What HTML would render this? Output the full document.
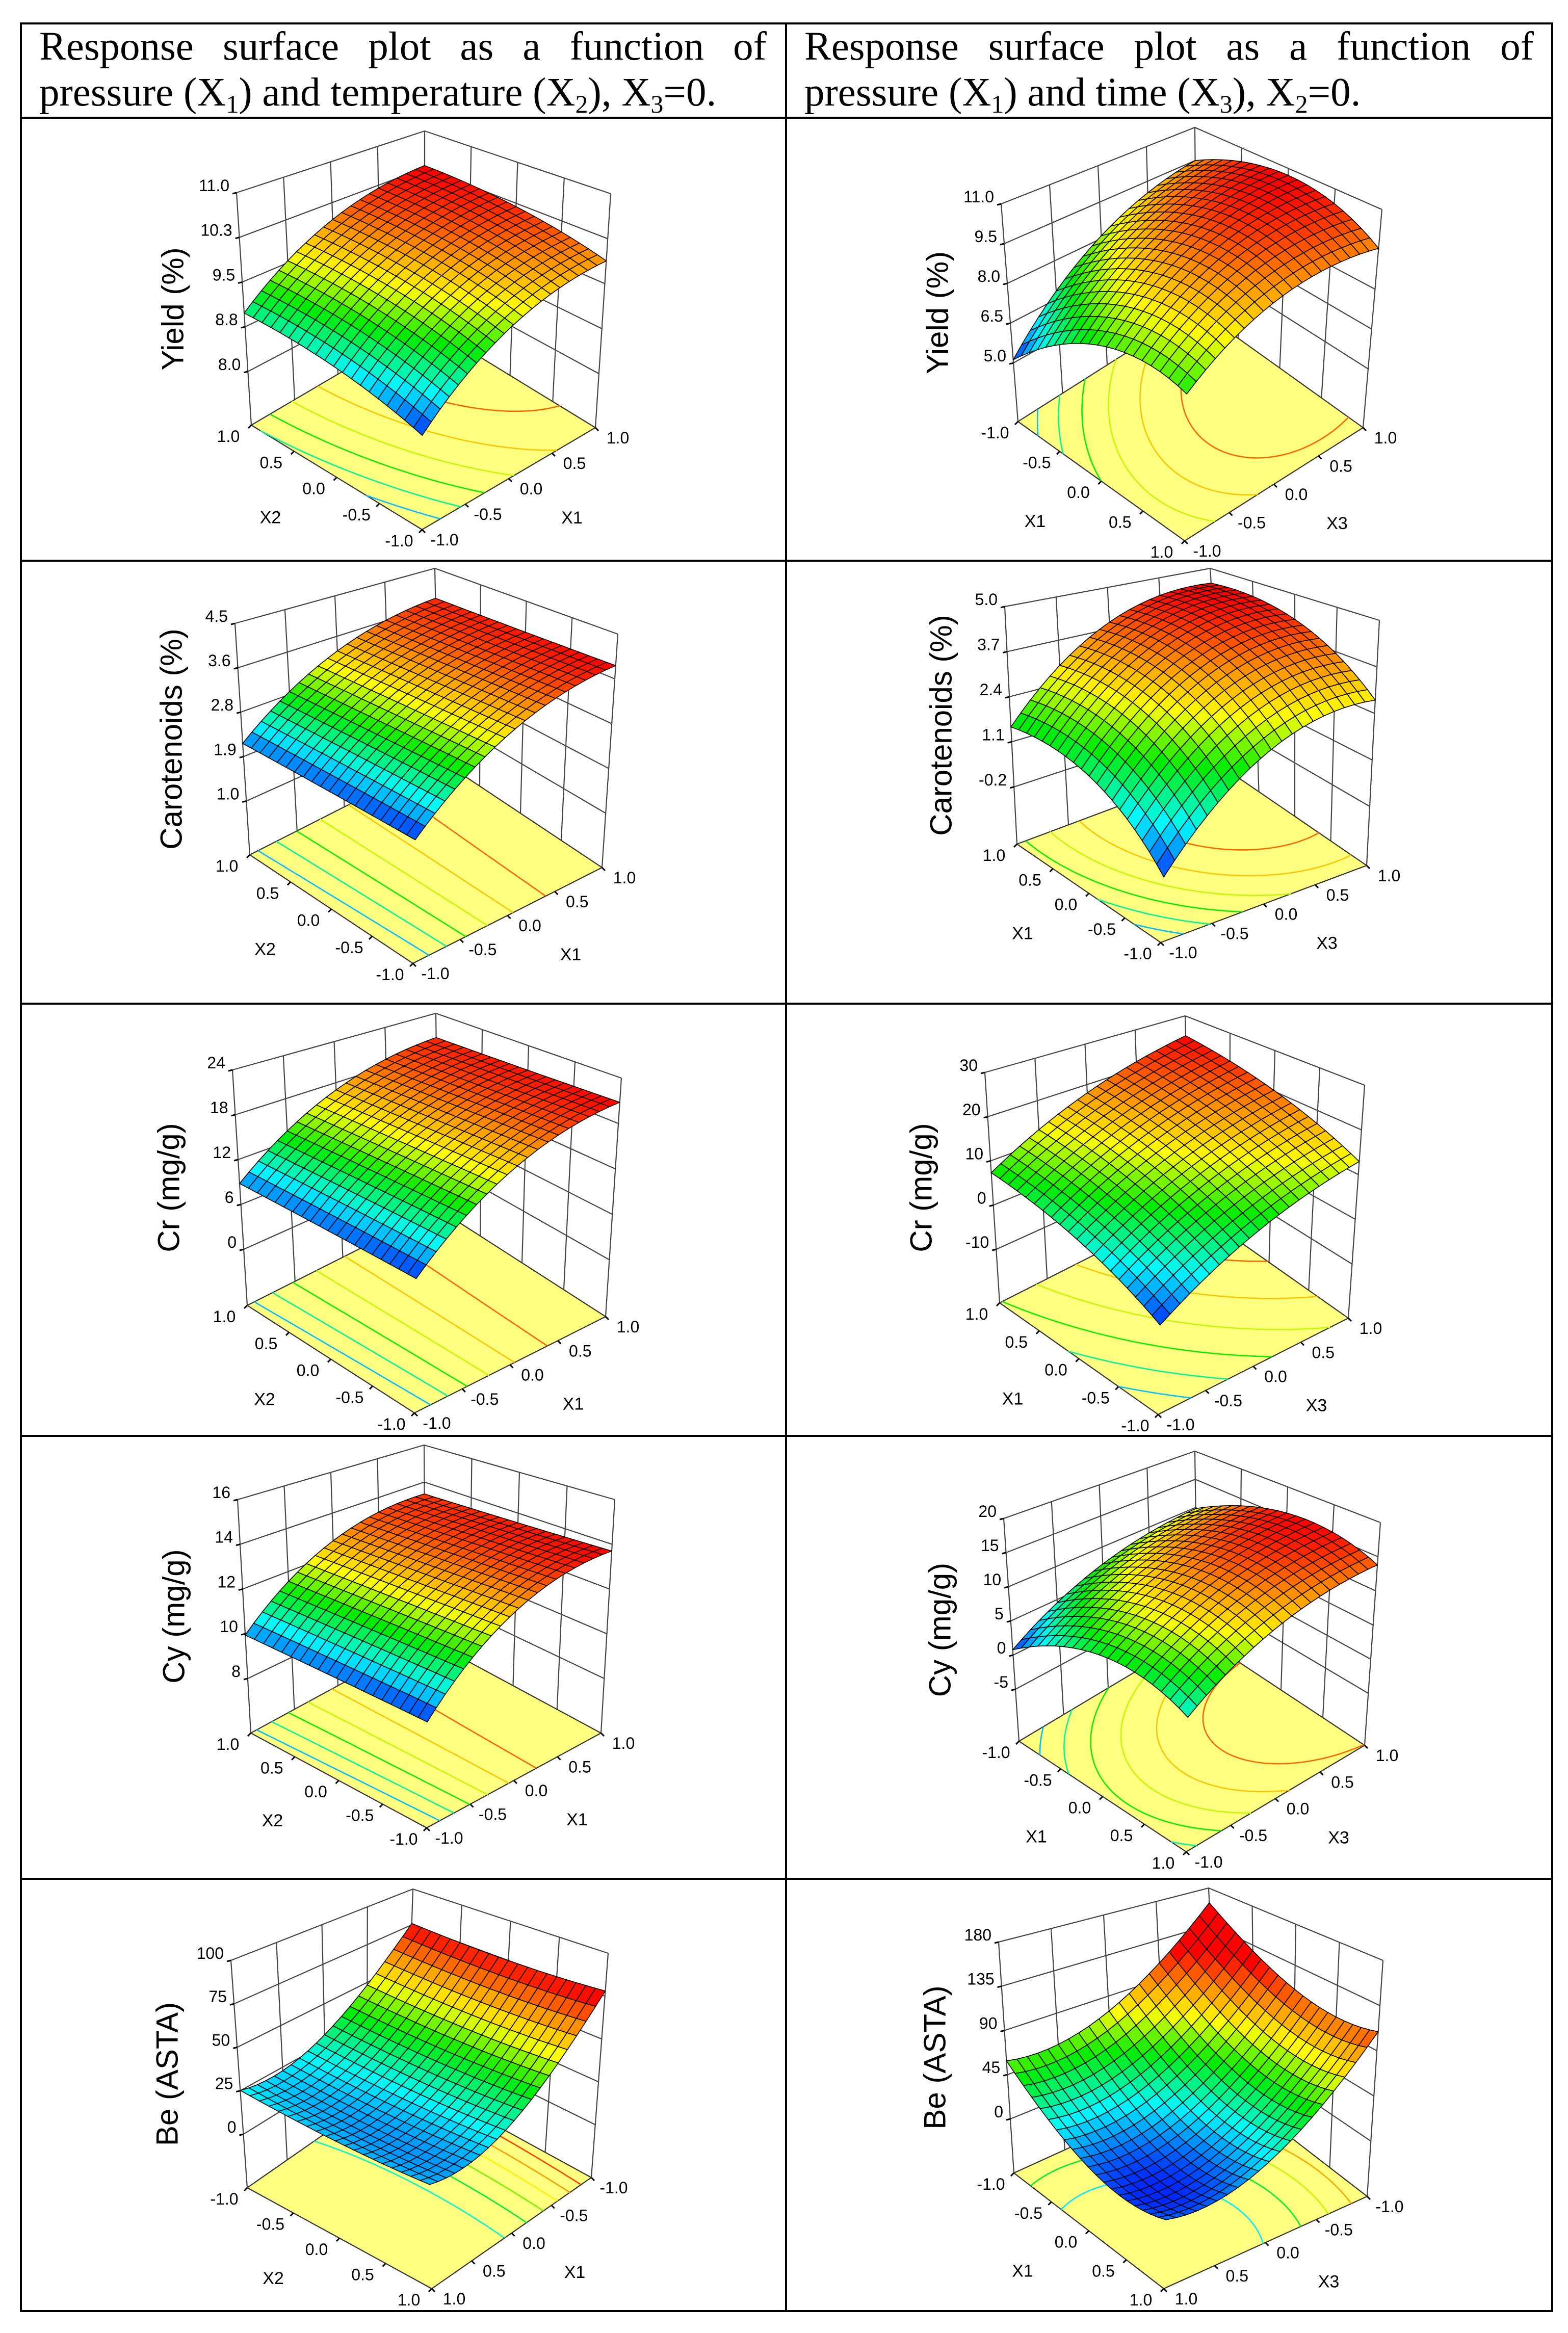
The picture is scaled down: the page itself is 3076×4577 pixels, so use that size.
<!DOCTYPE html>
<html><head><meta charset="utf-8"><title>Response surface plots</title>
<style>
html,body{margin:0;padding:0;background:#fff;}
svg{display:block;}
</style></head>
<body>
<svg id="fig" xmlns="http://www.w3.org/2000/svg" width="3076" height="4577" viewBox="0 0 3076 4577">
<rect x="0" y="0" width="3076" height="4577" fill="#fff"/>
<g id="table" stroke="#000" stroke-width="4" fill="none">
<rect x="41" y="46" width="3004" height="4488"/>
<line x1="1542" y1="46" x2="1542" y2="4534"/>
<line x1="41" y1="231" x2="3045" y2="231"/>
<line x1="41" y1="1100" x2="3045" y2="1100"/>
<line x1="41" y1="1969" x2="3045" y2="1969"/>
<line x1="41" y1="2817" x2="3045" y2="2817"/>
<line x1="41" y1="3686" x2="3045" y2="3686"/>
</g>
<g font-family="'Liberation Serif', serif" font-size="79" fill="#000">
<text id="h1" x="77" y="117">Response surface plot as a function of</text>
<text x="77" y="207">pressure (X<tspan font-size="50" dy="14">1</tspan><tspan dy="-14">) and temperature (X</tspan><tspan font-size="50" dy="14">2</tspan><tspan dy="-14">), X</tspan><tspan font-size="50" dy="14">3</tspan><tspan dy="-14">=0.</tspan></text>
<text id="h2" x="1578" y="117">Response surface plot as a function of</text>
<text x="1578" y="207">pressure (X<tspan font-size="50" dy="14">1</tspan><tspan dy="-14">) and time (X</tspan><tspan font-size="50" dy="14">3</tspan><tspan dy="-14">), X</tspan><tspan font-size="50" dy="14">2</tspan><tspan dy="-14">=0.</tspan></text>
</g>
<g id="plots"></g>
</svg>
<script>
// ---- data: quadratic model coefficients [b0, b1, b2, b11, b22, b12] for (first var, second var)
const yieldT_coef = [9.8, 0.69, 0.24, -0.3, -0.1, -0.03];
const yieldTime_coef = [9.92, 0.61, 1.6, -1.2, -0.8, -0.59];
const carT_coef = [3.3, 0.885, 0.01, -0.35, 0, -0.06];
const carTime_coef = [3.63, 0.88, 1.5, -0.6, -0.9, -0.02];
const crT_coef = [16.85, 6.1, 0.1, -2.5, 0, -0.45];
const crTime_coef = [13.45, 6.0, 8.8, -1.5, -2, -0.17];
const cyT_coef = [12.65, 1.88, 0, -1.0, 0, -0.17];
const cyTime_coef = [13.13, 1.84, 4.67, -4, -2, 0.16];
const beT_coef = [28, -27, -0.6, 20, 2, -1.6];
const beTime_coef = [19.5, -27, -52, 27, 37, -0.5];
// ---- z-axis tick values and labels
const yieldT_ticks = [8, 8.75, 9.5, 10.25, 11];
const yieldT_labels = ["8.0", "8.8", "9.5", "10.3", "11.0"];
const yieldTime_ticks = [5, 6.5, 8, 9.5, 11];
const yieldTime_labels = ["5.0", "6.5", "8.0", "9.5", "11.0"];
const carT_ticks = [1.0, 1.875, 2.75, 3.625, 4.5];
const carT_labels = ["1.0", "1.9", "2.8", "3.6", "4.5"];
const carTime_ticks = [-0.2, 1.1, 2.4, 3.7, 5.0];
const carTime_labels = ["-0.2", "1.1", "2.4", "3.7", "5.0"];
const crT_ticks = [0, 6, 12, 18, 24];
const crT_labels = ["0", "6", "12", "18", "24"];
const crTime_ticks = [-10, 0, 10, 20, 30];
const crTime_labels = ["-10", "0", "10", "20", "30"];
const cyT_ticks = [8, 10, 12, 14, 16];
const cyT_labels = ["8", "10", "12", "14", "16"];
const cyTime_ticks = [-5, 0, 5, 10, 15, 20];
const cyTime_labels = ["-5", "0", "5", "10", "15", "20"];
const beT_ticks = [0, 25, 50, 75, 100];
const beT_labels = ["0", "25", "50", "75", "100"];
const beTime_ticks = [0, 45, 90, 135, 180];
const beTime_labels = ["0", "45", "90", "135", "180"];
// z value at the floor of each box
const floorValues = [7.1, 2.79, -0.06, -1.85, -7.5, -22.1, 5.56, -12.6, -30.8, -55];
// colour-scale range per plot (null = surface min/max)
const colorMin = [null, null, null, null, null, null, null, null, 12, -5];
const colorMax = [null, null, null, null, null, null, null, null, 75, 120];
const zTitles = ["Yield (%)", "Yield (%)", "Carotenoids (%)", "Carotenoids (%)", "Cr (mg/g)", "Cr (mg/g)", "Cy (mg/g)", "Cy (mg/g)", "Be (ASTA)", "Be (ASTA)"];

// ---- layout (screen geometry, not data)
const layout = [
 {TB:[833,257],TL:[464,378],TR:[1198,380],FL:[493,834],FF:[828,1039],FR:[1168,839]},
 {TB:[2344,250],TL:[1964,400],TR:[2711,411],FL:[1997,827],FF:[2324,1061],FR:[2674,839]},
 {TB:[853,1115],TL:[461,1223],TR:[1212,1244],FL:[490,1677],FF:[810,1890],FR:[1181,1702]},
 {TB:[2374,1115],TL:[1971,1190],TR:[2706,1217],FL:[1995,1656],FF:[2277,1849],FR:[2681,1698]},
 {TB:[855,1988],TL:[456,2099],TR:[1219,2115],FL:[485,2561],FF:[813,2772],FR:[1188,2583]},
 {TB:[2325,1993],TL:[1932,2104],TR:[2677,2129],FL:[1961,2556],FF:[2272,2775],FR:[2645,2586]},
 {TB:[832,2835],TL:[466,2942],TR:[1206,2942],FL:[492,3400],FF:[837,3586],FR:[1179,3400]},
 {TB:[2344,2847],TL:[1969,2979],TR:[2708,2987],FL:[1999,3416],FF:[2327,3633],FR:[2677,3424]},
 {TB:[810,3706],TL:[453,3846],TR:[1193,3832],FL:[485,4292],FF:[847,4490],FR:[1160,4272]},
 {TB:[2371,3704],TL:[1959,3810],TR:[2713,3846],FL:[1989,4263],FF:[2283,4490],FR:[2682,4309]}
];
const axesCfg = [
 {lv:"X2",lFirst:false,aF:-1,aL:1, rv:"X1",bF:-1,bR:1},
 {lv:"X1",lFirst:true, aF:1,aL:-1, rv:"X3",bF:-1,bR:1},
 {lv:"X2",lFirst:false,aF:-1,aL:1, rv:"X1",bF:-1,bR:1},
 {lv:"X1",lFirst:true, aF:-1,aL:1, rv:"X3",bF:-1,bR:1},
 {lv:"X2",lFirst:false,aF:-1,aL:1, rv:"X1",bF:-1,bR:1},
 {lv:"X1",lFirst:true, aF:-1,aL:1, rv:"X3",bF:-1,bR:1},
 {lv:"X2",lFirst:false,aF:-1,aL:1, rv:"X1",bF:-1,bR:1},
 {lv:"X1",lFirst:true, aF:1,aL:-1, rv:"X3",bF:-1,bR:1},
 {lv:"X2",lFirst:false,aF:1,aL:-1, rv:"X1",bF:1,bR:-1},
 {lv:"X1",lFirst:true, aF:1,aL:-1, rv:"X3",bF:1,bR:-1}
];
const coefs = [yieldT_coef, yieldTime_coef, carT_coef, carTime_coef, crT_coef, crTime_coef, cyT_coef, cyTime_coef, beT_coef, beTime_coef];
const tickSets = [yieldT_ticks, yieldTime_ticks, carT_ticks, carTime_ticks, crT_ticks, crTime_ticks, cyT_ticks, cyTime_ticks, beT_ticks, beTime_ticks];
const labelSets = [yieldT_labels, yieldTime_labels, carT_labels, carTime_labels, crT_labels, crTime_labels, cyT_labels, cyTime_labels, beT_labels, beTime_labels];
const plotNames = ["yield-pressure-temperature","yield-pressure-time","carotenoids-pressure-temperature","carotenoids-pressure-time","cr-pressure-temperature","cr-pressure-time","cy-pressure-temperature","cy-pressure-time","be-pressure-temperature","be-pressure-time"];

const NS = "http://www.w3.org/2000/svg";
function mk(tag, attrs, parent){ const e=document.createElementNS(NS,tag); for(const k in attrs) e.setAttribute(k,attrs[k]); if(parent) parent.appendChild(e); return e; }

[["h1",1427],["h2",1431]].forEach(([id,w])=>{
  const t=document.getElementById(id); const len=t.getComputedTextLength();
  const n=t.textContent.split(" ").length-1;
  t.setAttribute("word-spacing",((w-len)/n).toFixed(2));
});

const stops=[[0,[0,40,255]],[0.2,[0,250,255]],[0.42,[0,235,0]],[0.62,[255,255,0]],[0.8,[255,140,0]],[1,[255,0,0]]];
function cmap(v){
  v=Math.max(0,Math.min(1,v));
  for(let i=1;i<stops.length;i++){ if(v<=stops[i][0]){ const a=stops[i-1],b=stops[i]; const f=(v-a[0])/(b[0]-a[0]);
    const c=a[1].map((x,k)=>Math.round(x+(b[1][k]-x)*f)); return "rgb("+c.join(",")+")"; } }
  return "rgb(255,0,0)";
}

function model(c,x,y){ return c[0]+c[1]*x+c[2]*y+c[3]*x*x+c[4]*y*y+c[5]*x*y; }

const root=document.getElementById("plots");
for(let p=0;p<10;p++){
  const G=layout[p], A=axesCfg[p], C=coefs[p], ticks=tickSets[p], labels=labelSets[p];
  const zf=floorValues[p], zt=ticks[ticks.length-1];
  const TF=[G.TL[0]+G.TR[0]-G.TB[0], G.TL[1]+G.TR[1]-G.TB[1]];
  function P(s,t,h){
    const fx=G.FF[0]+s*(G.FL[0]-G.FF[0])+t*(G.FR[0]-G.FF[0]);
    const fy=G.FF[1]+s*(G.FL[1]-G.FF[1])+t*(G.FR[1]-G.FF[1]);
    const tx=TF[0]+s*(G.TL[0]-TF[0])+t*(G.TR[0]-TF[0]);
    const ty=TF[1]+s*(G.TL[1]-TF[1])+t*(G.TR[1]-TF[1]);
    return [fx+h*(tx-fx), fy+h*(ty-fy)];
  }
  function hz(z){ return (z-zf)/(zt-zf); }
  function val(s,t){ const a=A.aF+s*(A.aL-A.aF), b=A.bF+t*(A.bR-A.bF); return A.lFirst?model(C,a,b):model(C,b,a); }
  const pt=q=>q[0].toFixed(1)+","+q[1].toFixed(1);

  const g=mk("g",{},root);
  
  

  const walls=mk("g",{stroke:"#444","stroke-width":"2.2",fill:"none"},g);
  
  
  let d="";
  for(let k=0;k<=4;k++){ const a=P(1,k/4,0), b=P(1,k/4,1); d+="M"+pt(a)+"L"+pt(b); const c=P(k/4,1,0), e=P(k/4,1,1); d+="M"+pt(c)+"L"+pt(e); }
  const hs=ticks.map(hz).concat([1]);
  hs.forEach(h=>{ d+="M"+pt(P(1,0,h))+"L"+pt(P(1,1,h))+"L"+pt(P(0,1,h)); });
  mk("path",{d:d},walls);

  const fl=mk("polygon",{points:[P(0,0,0),P(1,0,0),P(1,1,0),P(0,1,0)].map(pt).join(" "),fill:"#ffff80",stroke:"#333","stroke-width":"2.2"},g);
  
  

  const N=20; let vmin=1e9,vmax=-1e9;
  const V=[]; for(let i=0;i<=N;i++){ V.push([]); for(let j=0;j<=N;j++){ const v=val(i/N,j/N); V[i].push(v); vmin=Math.min(vmin,v); vmax=Math.max(vmax,v);} }
  const cmin=colorMin[p]===null?vmin:colorMin[p], cmax=colorMax[p]===null?vmax:colorMax[p];

  const M=60; const F=[]; for(let i=0;i<=M;i++){F.push([]); for(let j=0;j<=M;j++) F[i].push(val(i/M,j/M));}
  const nLev=6;
  const cg=mk("g",{fill:"none","stroke-width":"2.6"},g);
  
  
  for(let L=1;L<=nLev;L++){
    const lev=vmin+(vmax-vmin)*L/(nLev+1); let cd="";
    for(let i=0;i<M;i++) for(let j=0;j<M;j++){
      const c=[[i,j],[i+1,j],[i+1,j+1],[i,j+1]]; const pts=[];
      for(let e=0;e<4;e++){ const p1=c[e],p2=c[(e+1)%4]; const v1=F[p1[0]][p1[1]]-lev, v2=F[p2[0]][p2[1]]-lev;
        if((v1<0)!==(v2<0)){ const f=v1/(v1-v2); pts.push([(p1[0]+f*(p2[0]-p1[0]))/M,(p1[1]+f*(p2[1]-p1[1]))/M]); } }
      for(let k=0;k+1<pts.length;k+=2){ cd+="M"+pt(P(pts[k][0],pts[k][1],0))+"L"+pt(P(pts[k+1][0],pts[k+1][1],0)); }
    }
    if(cd){ const cp=mk("path",{d:cd,stroke:cmap((lev-cmin)/(cmax-cmin))},cg);
      
       }
  }

  const sg=mk("g",{stroke:"#000","stroke-width":"1.6","stroke-linejoin":"round"},g);
  
  
  const cells=[]; for(let i=0;i<N;i++) for(let j=0;j<N;j++) cells.push([i,j]);
  cells.sort((a,b)=>(b[0]+b[1])-(a[0]+a[1]));
  cells.forEach(([i,j])=>{
    const q=[[i,j],[i+1,j],[i+1,j+1],[i,j+1]].map(([a,b])=>P(a/N,b/N,hz(V[a][b])));
    const vc=(V[i][j]+V[i+1][j]+V[i+1][j+1]+V[i][j+1])/4;
    const poly=mk("polygon",{points:q.map(pt).join(" "),fill:cmap((vc-cmin)/(cmax-cmin))},sg);
    
    
  });

  const ag=mk("g",{"font-family":"'Liberation Sans', sans-serif",fill:"#000"},g);
  
  
  let td="";
  ticks.forEach((z,k)=>{ const q=P(1,0,hz(z)); td+="M"+pt(q)+"l-8,2";
    const t=mk("text",{x:(q[0]-14).toFixed(1),y:(q[1]-3).toFixed(1),"font-size":"32","text-anchor":"end"},ag); t.textContent=labels[k];
    
     });
  for(let k=0;k<=4;k++){
    const s=k/4; const q=P(s,0,0); const va=A.aF+s*(A.aL-A.aF);
    td+="M"+pt(q)+"l-6,6";
    const t=mk("text",{x:(q[0]-45).toFixed(1),y:(q[1]+33).toFixed(1),"font-size":"32","text-anchor":"middle"},ag); t.textContent=va.toFixed(1);
    
    
    const q2=P(0,s,0); const vb=A.bF+s*(A.bR-A.bF);
    td+="M"+pt(q2)+"l6,6";
    const t2=mk("text",{x:(q2[0]+44).toFixed(1),y:(q2[1]+31).toFixed(1),"font-size":"32","text-anchor":"middle"},ag); t2.textContent=vb.toFixed(1);
    
    
  }
  mk("path",{d:td,stroke:"#000","stroke-width":"3",fill:"none"},ag);
  const ml=P(0.5,0,0), mr=P(0,0.5,0);
  const ln=mk("text",{x:(ml[0]-130).toFixed(1),y:(ml[1]+90).toFixed(1),"font-size":"34","text-anchor":"middle"},ag); ln.textContent=A.lv;
  
  
  const rn=mk("text",{x:(mr[0]+124).toFixed(1),y:(mr[1]+88).toFixed(1),"font-size":"34","text-anchor":"middle"},ag); rn.textContent=A.rv;
  
  
  const cx=G.TL[0]-125, cy=(G.TL[1]+G.FL[1])/2;
  const zt2=mk("text",{x:cx,y:cy,"font-size":"60","text-anchor":"middle","dominant-baseline":"central",transform:"rotate(-90 "+cx+" "+cy+")"},ag); zt2.textContent=zTitles[p];
  
  
}
</script>
</body></html>
